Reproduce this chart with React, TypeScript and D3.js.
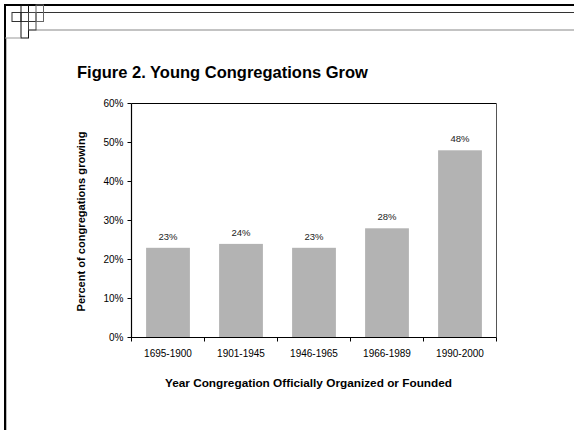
import React from "react";
import * as d3 from "d3";

const categories = ["1695-1900", "1901-1945", "1946-1965", "1966-1989", "1990-2000"];
const values = [0.23, 0.24, 0.23, 0.28, 0.48];
const yTicks = [0, 0.1, 0.2, 0.3, 0.4, 0.5, 0.6];
const title = "Figure 2. Young Congregations Grow";
const xTitle = "Year Congregation Officially Organized or Founded";
const yTitle = "Percent of congregations growing";

const W = 574;
const H = 430;
const plot = { left: 131.5, right: 496.5, top: 103.5, bottom: 337.5 };
const font = "Arial, 'Liberation Sans', sans-serif";

export default function App() {
  const x = d3
    .scaleBand<string>()
    .domain(categories)
    .range([plot.left, plot.right])
    .paddingInner(0.4)
    .paddingOuter(0.2);
  const y = d3.scaleLinear().domain([0, 0.6]).range([plot.bottom, plot.top]);
  const pct = d3.format(".0%");
  const step = x.step();
  const boundaries = d3.range(categories.length + 1).map((i) => plot.left + i * step);

  return (
    <svg
      width={W}
      height={H}
      style={{ position: "absolute", left: 0, top: 0, background: "#fff" }}
      fontFamily={font}
    >
      <rect x={0} y={0} width={W} height={H} fill="#fff" />
      {/* decorative frame */}
      <g fill="none">
        <line x1={4} x2={W} y1={5} y2={5} stroke="#000" strokeWidth={2} />
        <line x1={5} x2={5} y1={4} y2={H} stroke="#000" strokeWidth={2} />
        <line x1={6.5} x2={6.5} y1={38} y2={H} stroke="#bbb" strokeWidth={1} />
        <line x1={12} x2={W} y1={12.5} y2={12.5} stroke="#333" strokeWidth={1} />
        <line x1={28.5} x2={W} y1={30} y2={30} stroke="#888" strokeWidth={1.2} />
        <line x1={12} x2={43.5} y1={21.5} y2={21.5} stroke="#333" strokeWidth={1} />
        <rect x={12} y={12.5} width={9} height={9} stroke="#333" strokeWidth={1} />
        <rect x={21} y={5} width={7.5} height={33} stroke="#111" strokeWidth={1} />
        <line x1={5} x2={21} y1={38} y2={38} stroke="#999" strokeWidth={1} />
        <rect x={28.5} y={12.5} width={7.5} height={17.5} stroke="#444" strokeWidth={1} />
        <rect x={36} y={5} width={7.5} height={16.5} stroke="#666" strokeWidth={1} />
      </g>

      <text x={77} y={78} fontSize={16.5} fontWeight="bold" fill="#000">
        {title}
      </text>

      {/* plot frame */}
      <line x1={plot.left} x2={plot.right} y1={plot.top} y2={plot.top} stroke="#000" strokeWidth={1} />
      <line x1={plot.right} x2={plot.right} y1={plot.top} y2={plot.bottom} stroke="#555" strokeWidth={1} />

      {/* bars */}
      {categories.map((c, i) => (
        <g key={c}>
          <rect
            x={x(c)}
            y={y(values[i])}
            width={x.bandwidth()}
            height={plot.bottom - y(values[i])}
            fill="#b3b3b3"
          />
          <text
            x={(x(c) ?? 0) + x.bandwidth() / 2}
            y={y(values[i]) - 8}
            textAnchor="middle"
            fontSize={9.5}
            fill="#222"
          >
            {pct(values[i])}
          </text>
          <text
            x={(x(c) ?? 0) + x.bandwidth() / 2}
            y={356.5}
            textAnchor="middle"
            fontSize={10}
            fill="#000"
          >
            {c}
          </text>
        </g>
      ))}

      {/* y axis */}
      <line x1={plot.left} x2={plot.left} y1={plot.top} y2={plot.bottom} stroke="#000" strokeWidth={1.2} />
      {yTicks.map((t) => (
        <g key={t}>
          <line x1={plot.left - 4} x2={plot.left} y1={y(t)} y2={y(t)} stroke="#000" />
          <text x={plot.left - 8} y={y(t) + 3.5} textAnchor="end" fontSize={10} fill="#000">
            {pct(t)}
          </text>
        </g>
      ))}

      {/* x axis */}
      <line x1={plot.left - 1} x2={plot.right} y1={plot.bottom} y2={plot.bottom} stroke="#000" strokeWidth={1.2} />
      {boundaries.map((b, i) => (
        <line key={i} x1={b} x2={b} y1={plot.bottom} y2={plot.bottom + 4} stroke="#000" />
      ))}

      <text
        x={308.5}
        y={387}
        textAnchor="middle"
        fontSize={11.8}
        fontWeight="bold"
        fill="#000"
      >
        {xTitle}
      </text>
      <text
        transform={`translate(84.5, 221.5) rotate(-90)`}
        textAnchor="middle"
        fontSize={11.1}
        fontWeight="bold"
        fill="#000"
      >
        {yTitle}
      </text>
    </svg>
  );
}
